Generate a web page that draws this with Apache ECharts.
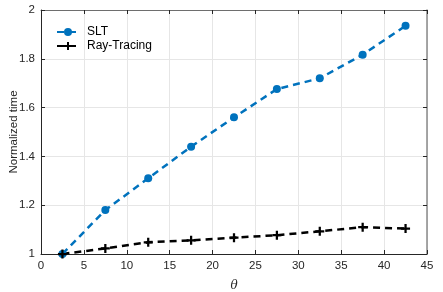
<!DOCTYPE html>
<html><head><meta charset="utf-8">
<script src="https://cdn.jsdelivr.net/npm/echarts@6/dist/echarts.min.js"></script>
<style>html,body{margin:0;padding:0;background:#fff}#c{width:443px;height:292px}</style>
</head><body><div id="c"></div>
<script>
const theta = [2.5, 7.5, 12.5, 17.5, 22.5, 27.5, 32.5, 37.5, 42.5];
const slt = [1.0, 1.18, 1.31, 1.44, 1.56, 1.676, 1.72, 1.817, 1.935];
const rayTracing = [1.0, 1.023, 1.048, 1.056, 1.067, 1.077, 1.093, 1.11, 1.104];
const xLabel = 'θ';
const yLabel = 'Normalized time';

const font = 'Liberation Sans, Arial, sans-serif';
const plus = 'path://M-1,-4H1V-1H4V1H1V4H-1V1H-4V-1H-1Z';
const chart = echarts.init(document.getElementById('c'), null, {renderer: 'canvas'});
const axisBase = {
  type: 'value', min: 0, max: 45, interval: 5,
  axisLine: {show: true, onZero: false, lineStyle: {color: '#262626', width: 1}},
  axisTick: {show: true, inside: true, length: 4, lineStyle: {color: '#262626'}},
};
chart.setOption({
  animation: false,
  grid: {left: 41, right: 16, top: 10, bottom: 38, containLabel: false, outerBoundsMode: 'none'},
  legend: {
    orient: 'vertical', left: 56, top: 26, padding: 0, itemGap: 2, itemWidth: 22, itemHeight: 10,
    textStyle: {fontFamily: font, fontSize: 12, color: '#000', padding: [0, 0, 0, 3]},
    data: ['SLT', 'Ray-Tracing']
  },
  xAxis: [
    Object.assign({}, axisBase, {
      position: 'bottom',
      name: xLabel, nameLocation: 'middle', nameGap: 26, nameMoveOverlap: false,
      nameTextStyle: {fontFamily: 'DejaVu Serif, serif', fontStyle: 'italic', fontSize: 12, color: '#262626'},
      axisLabel: {fontFamily: font, fontSize: 11.5, color: '#262626', margin: 6},
      splitLine: {show: true, lineStyle: {color: '#e6e6e6', width: 1}}
    }),
    Object.assign({}, axisBase, {
      position: 'top',
      axisLine: {show: true, onZero: false, lineStyle: {color: '#6e6e6e', width: 1}},
      axisLabel: {show: false}, splitLine: {show: false}
    })
  ],
  yAxis: [
    {
      type: 'value', min: 1, max: 2, interval: 0.2, position: 'left',
      name: yLabel, nameLocation: 'middle', nameGap: 21, nameMoveOverlap: false,
      nameTextStyle: {fontFamily: font, fontSize: 11.5, color: '#262626'},
      axisLine: {show: true, onZero: false, lineStyle: {color: '#262626'}},
      axisTick: {show: true, inside: true, length: 4, lineStyle: {color: '#262626'}},
      axisLabel: {fontFamily: font, fontSize: 11.5, color: '#262626', margin: 6,
        formatter: v => String(+v.toFixed(1))},
      splitLine: {show: true, lineStyle: {color: '#e6e6e6', width: 1}}
    },
    {
      type: 'value', min: 1, max: 2, interval: 0.2, position: 'right',
      axisLine: {show: true, onZero: false, lineStyle: {color: '#8a8a8a', width: 1.5}},
      axisTick: {show: true, inside: true, length: 4, lineStyle: {color: '#262626'}},
      axisLabel: {show: false}, splitLine: {show: false}
    }
  ],
  series: [
    {
      name: 'SLT', type: 'line', xAxisIndex: 0, yAxisIndex: 0,
      data: theta.map((t, i) => [t, slt[i]]),
      symbol: 'circle', symbolSize: 8,
      itemStyle: {color: '#0072BD'},
      lineStyle: {color: '#0072BD', width: 2.5, type: [7, 5]}
    },
    {
      name: 'Ray-Tracing', type: 'line', xAxisIndex: 0, yAxisIndex: 0,
      data: theta.map((t, i) => [t, rayTracing[i]]),
      symbol: plus, symbolSize: 9,
      itemStyle: {color: '#000'},
      lineStyle: {color: '#000', width: 2.5, type: [7, 5]}
    }
  ]
});
</script></body></html>
